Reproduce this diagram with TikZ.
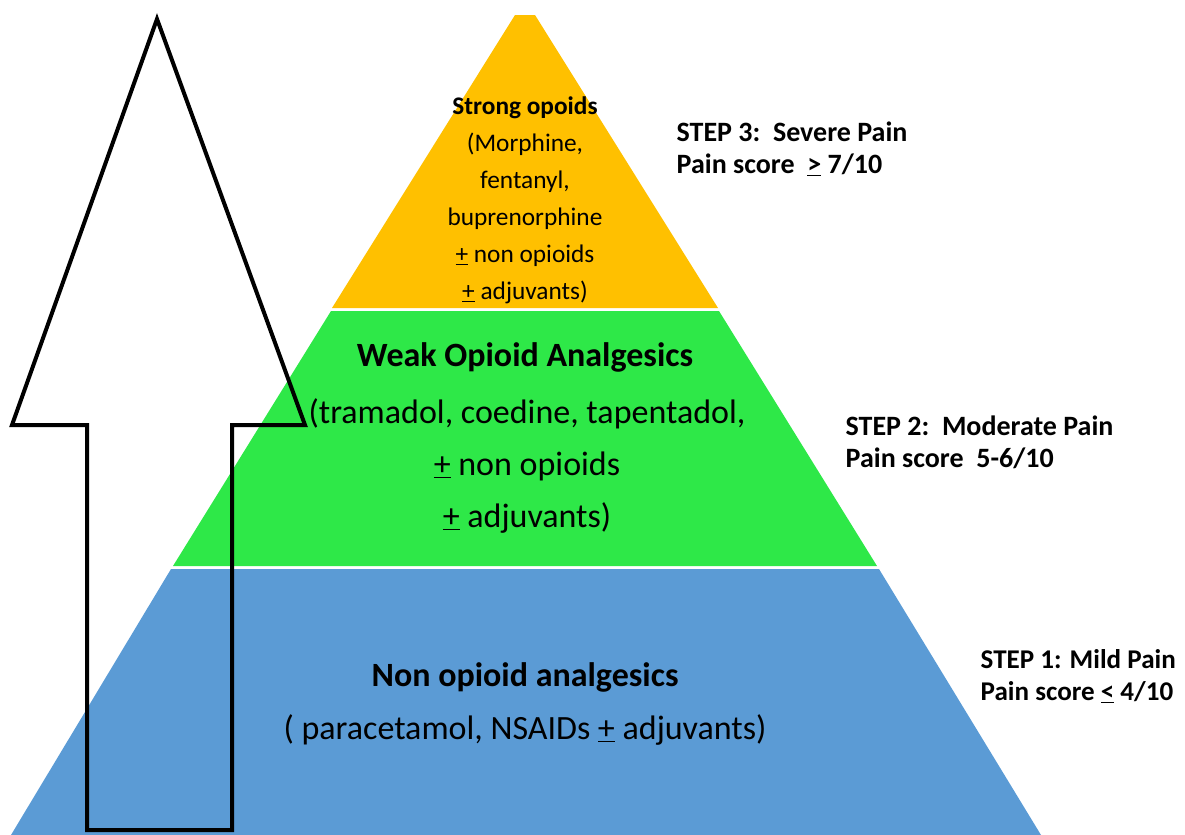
\documentclass[tikz,border=0pt]{standalone}
\usepackage{fontspec}
\setmainfont{Carlito}
\definecolor{strongcol}{RGB}{255,192,0}
\definecolor{weakcol}{RGB}{46,232,72}
\definecolor{nonopcol}{RGB}{91,155,213}

\begin{document}
\begin{tikzpicture}[x=0.75pt,y=-0.75pt,
  drug/.style={align=center,font=\fontsize{25.5}{39}\selectfont},
  small/.style={align=center,font=\fontsize{19}{27.7}\selectfont},
  steplabel/.style={anchor=west,align=left,font=\bfseries\fontsize{21}{24}\selectfont}]
 \useasboundingbox (0,0) rectangle (1185,835);
 \fill[strongcol] (515,15)--(535,15)--(718,308)--(332,308)--cycle; %step 3
 \fill[weakcol] (331,311)--(719,311)--(877,566)--(173,566)--cycle; %step 2
 \fill[nonopcol] (171,569)--(879,569)--(1041,835)--(11,835)--cycle; %step 1
 \node[small] (strong) at (525,200) {{\bfseries Strong opoids}\\(Morphine,\\fentanyl,\\buprenorphine\\\underline{+} non opioids\\\underline{+} adjuvants)};
 \node[drug,font=\bfseries\fontsize{25.5}{39}\selectfont] (weak) at (525,357) {Weak Opioid Analgesics};
 \node[drug] (weaklist) at (527,466) {(tramadol, coedine, tapentadol,\\\underline{+} non opioids\\\underline{+} adjuvants)};
 \node[drug,font=\bfseries\fontsize{25.5}{39}\selectfont] (nonop) at (525,677) {Non opioid analgesics};
 \node[drug] (nonoplist) at (525,730) {( paracetamol, NSAIDs \underline{+} adjuvants)};
 \node[steplabel] (step3) at (672,149) {STEP 3:\ \ Severe Pain\\Pain score\ \ \underline{>} 7/10};
 \node[steplabel] (step2) at (841,442) {STEP 2:\ \ Moderate Pain\\Pain score\ \ 5-6/10};
 \node[steplabel,font=\bfseries\fontsize{20.3}{24}\selectfont] (step1) at (976,676) {STEP 1: Mild Pain\\Pain score \underline{<} 4/10};
 \draw[line width=3pt,line join=miter] (157,19)--(305,425)--(232,425)--(232,830)--(87,830)--(87,425)--(12,425)--cycle; %arrow
\end{tikzpicture}
\end{document}
